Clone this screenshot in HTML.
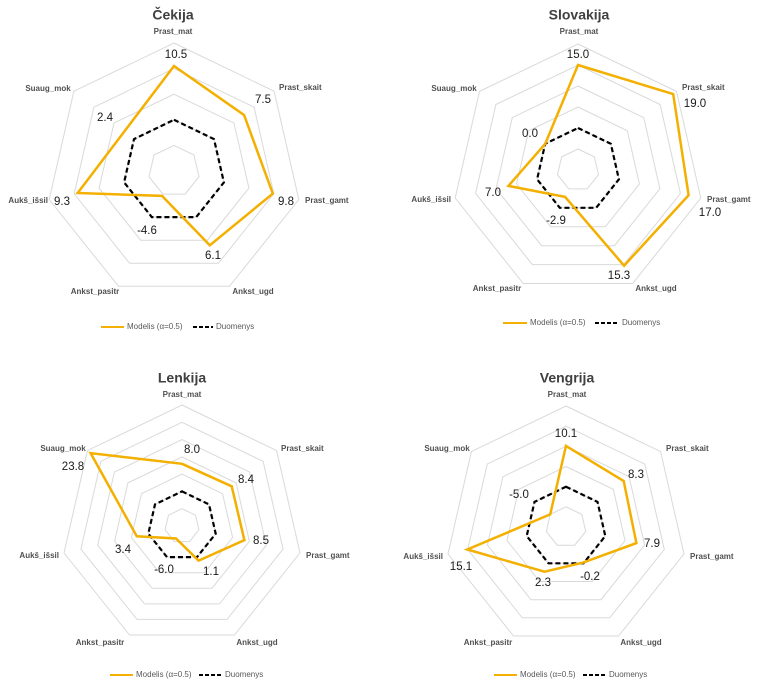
<!DOCTYPE html>
<html><head><meta charset="utf-8"><style>
html,body{margin:0;padding:0;background:#fff;width:764px;height:696px;overflow:hidden}
svg{display:block;font-family:"Liberation Sans",sans-serif}
.t{font-size:14px;font-weight:bold;fill:#404040;text-anchor:middle;dominant-baseline:middle}
.c{font-size:8px;font-weight:bold;fill:#505050;dominant-baseline:middle}
.d{font-size:11.5px;fill:#1a1a1a;text-anchor:middle;dominant-baseline:middle}
.l{font-size:8px;fill:#595959;dominant-baseline:middle}
.m{text-anchor:middle}.e{text-anchor:end}
</style></head><body>
<svg id="s" width="764" height="696" viewBox="0 0 764 696">
<g id="g"></g>
<!-- Cekija -->
<text class="t" x="173" y="16">Čekija</text>
<text class="c m" x="173" y="32">Prast_mat</text>
<text class="c" x="279" y="88">Prast_skait</text>
<text class="c" x="305" y="201">Prast_gamt</text>
<text class="c m" x="253" y="292">Ankst_ugd</text>
<text class="c m" x="95" y="292">Ankst_pasitr</text>
<text class="c e" x="48" y="201">Aukš_išsil</text>
<text class="c m" x="48" y="89">Suaug_mok</text>
<text class="d" x="176" y="55">10.5</text>
<text class="d" x="263" y="100">7.5</text>
<text class="d" x="286" y="202">9.8</text>
<text class="d" x="213" y="256">6.1</text>
<text class="d" x="147" y="231">-4.6</text>
<text class="d" x="62" y="202">9.3</text>
<text class="d" x="105" y="118">2.4</text>
<line x1="101" y1="327" x2="124" y2="327" stroke="#F4B000" stroke-width="2"/>
<text class="l" x="127" y="327">Modelis (α=0.5)</text>
<line x1="193" y1="327" x2="213" y2="327" stroke="#000" stroke-width="2" stroke-dasharray="4,2"/>
<text class="l" x="216" y="327">Duomenys</text>
<!-- Slovakija -->
<text class="t" x="579" y="16">Slovakija</text>
<text class="c m" x="579" y="32">Prast_mat</text>
<text class="c" x="682" y="88">Prast_skait</text>
<text class="c" x="707" y="200">Prast_gamt</text>
<text class="c m" x="656" y="289">Ankst_ugd</text>
<text class="c m" x="497" y="289">Ankst_pasitr</text>
<text class="c e" x="451" y="200">Aukš_išsil</text>
<text class="c m" x="454" y="89">Suaug_mok</text>
<text class="d" x="578" y="55">15.0</text>
<text class="d" x="695" y="104">19.0</text>
<text class="d" x="710" y="213">17.0</text>
<text class="d" x="619" y="276">15.3</text>
<text class="d" x="556" y="221">-2.9</text>
<text class="d" x="493" y="193">7.0</text>
<text class="d" x="530" y="134">0.0</text>
<line x1="503" y1="323" x2="527" y2="323" stroke="#F4B000" stroke-width="2"/>
<text class="l" x="530" y="323">Modelis (α=0.5)</text>
<line x1="595" y1="323" x2="619" y2="323" stroke="#000" stroke-width="2" stroke-dasharray="4,2"/>
<text class="l" x="622" y="323">Duomenys</text>
<!-- Lenkija -->
<text class="t" x="182" y="379">Lenkija</text>
<text class="c m" x="182" y="395">Prast_mat</text>
<text class="c" x="281" y="449">Prast_skait</text>
<text class="c" x="306" y="556">Prast_gamt</text>
<text class="c m" x="257" y="643">Ankst_ugd</text>
<text class="c m" x="100" y="643">Ankst_pasitr</text>
<text class="c e" x="59" y="556">Aukš_išsil</text>
<text class="c m" x="63" y="449">Suaug_mok</text>
<text class="d" x="192" y="450">8.0</text>
<text class="d" x="246" y="480">8.4</text>
<text class="d" x="261" y="541">8.5</text>
<text class="d" x="211" y="572">1.1</text>
<text class="d" x="164" y="570">-6.0</text>
<text class="d" x="123" y="550">3.4</text>
<text class="d" x="73" y="467">23.8</text>
<line x1="110" y1="675" x2="133" y2="675" stroke="#F4B000" stroke-width="2"/>
<text class="l" x="136" y="675">Modelis (α=0.5)</text>
<line x1="199" y1="675" x2="222" y2="675" stroke="#000" stroke-width="2" stroke-dasharray="4,2"/>
<text class="l" x="225" y="675">Duomenys</text>
<!-- Vengrija -->
<text class="t" x="567" y="379">Vengrija</text>
<text class="c m" x="567" y="395">Prast_mat</text>
<text class="c" x="666" y="449">Prast_skait</text>
<text class="c" x="690" y="557">Prast_gamt</text>
<text class="c m" x="641" y="643">Ankst_ugd</text>
<text class="c m" x="488" y="643">Ankst_pasitr</text>
<text class="c e" x="443" y="557">Aukš_išsil</text>
<text class="c m" x="447" y="449">Suaug_mok</text>
<text class="d" x="566" y="434">10.1</text>
<text class="d" x="636" y="475">8.3</text>
<text class="d" x="652" y="544">7.9</text>
<text class="d" x="590" y="577">-0.2</text>
<text class="d" x="543" y="583">2.3</text>
<text class="d" x="461" y="567">15.1</text>
<text class="d" x="519" y="495">-5.0</text>
<line x1="494" y1="675" x2="517" y2="675" stroke="#F4B000" stroke-width="2"/>
<text class="l" x="520" y="675">Modelis (α=0.5)</text>
<line x1="583" y1="675" x2="606" y2="675" stroke="#000" stroke-width="2" stroke-dasharray="4,2"/>
<text class="l" x="609" y="675">Duomenys</text>
</svg>
<script>
var charts=[
 {cx:174,cy:171,R:128,n:5,v:[10.5,7.5,9.8,6.1,-4.6,9.3,2.4]},
 {cx:578,cy:170,R:126,n:6,v:[15.0,19.0,17.0,15.3,-2.9,7.0,0.0]},
 {cx:182,cy:526,R:121,n:7,v:[8.0,8.4,8.5,1.1,-6.0,3.4,23.8]},
 {cx:566,cy:527,R:121,n:6,v:[10.1,8.3,7.9,-0.2,2.3,15.1,-5.0]}
];
var g=document.getElementById('g'),h='';
function pts(c,rs){var p=[];for(var i=0;i<7;i++){var a=-Math.PI/2+i*2*Math.PI/7,r=rs[i];p.push((c.cx+r*Math.cos(a)).toFixed(1)+','+(c.cy+r*Math.sin(a)).toFixed(1));}return p.join(' ');}
charts.forEach(function(c){
 var s=c.R/c.n;
 for(var k=1;k<=c.n;k++){h+='<polygon points="'+pts(c,[0,0,0,0,0,0,0].map(function(){return s*k;}))+'" fill="none" stroke="#d9d9d9" stroke-width="1"/>';}
 h+='<polygon points="'+pts(c,[0,0,0,0,0,0,0].map(function(){return s*2;}))+'" fill="none" stroke="#000" stroke-width="2.2" stroke-dasharray="5,3"/>';
 h+='<polygon points="'+pts(c,c.v.map(function(v){return (v+10)*s/5;}))+'" fill="none" stroke="#F4B000" stroke-width="2.5" stroke-linejoin="miter"/>';
});
g.innerHTML=h;
</script>
</body></html>
